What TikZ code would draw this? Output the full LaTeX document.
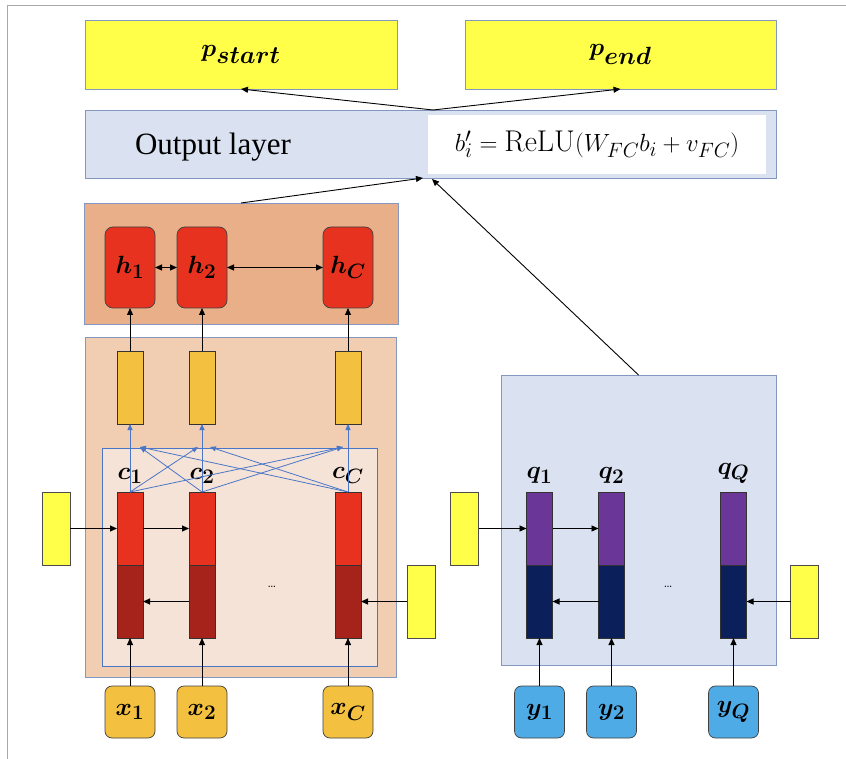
\documentclass[tikz,border=0pt]{standalone}
\usepackage{fontspec}
\usepackage{bm}
\usetikzlibrary{arrows.meta, positioning, calc}
\newfontfamily\timesfont{Liberation Serif}

\definecolor{pyellow}{HTML}{FFFF4A}
\definecolor{zoneedge}{HTML}{8497C0}
\definecolor{outfill}{HTML}{DAE2F2}
\definecolor{hfill}{HTML}{E9AF88}
\definecolor{cfill}{HTML}{F1CDB1}
\definecolor{cinner}{HTML}{F6E3D7}
\definecolor{linkblue}{HTML}{4A76C8}
\definecolor{hred}{HTML}{E6321F}
\definecolor{gold}{HTML}{F3C13F}
\definecolor{cdark}{HTML}{A5231A}
\definecolor{qpurple}{HTML}{6A3698}
\definecolor{qnavy}{HTML}{0B1F5B}
\definecolor{skyblue}{HTML}{4FABE6}
\definecolor{framegray}{HTML}{A8A8A8}

\begin{document}
\begin{tikzpicture}[
    x=1pt, y=1pt,
    zone/.style={rectangle, draw=zoneedge, line width=0.8pt, inner sep=0pt, outer sep=0pt},
    pbox/.style={zone, fill=pyellow, minimum height=69pt,
        font=\fontsize{34}{34}\selectfont},
    cell/.style={rectangle, draw=black!80, line width=0.6pt, inner sep=0pt, outer sep=0pt,
        minimum width=26pt, minimum height=73pt},
    ctop/.style={cell, fill=hred},
    cbot/.style={cell, fill=cdark},
    qtop/.style={cell, fill=qpurple},
    qbot/.style={cell, fill=qnavy},
    gatebox/.style={cell, fill=gold},
    side/.style={cell, draw=black!70, fill=pyellow, minimum width=28pt},
    hbox/.style={rectangle, rounded corners=8pt, draw=black!75, line width=0.7pt,
        fill=hred, minimum width=50pt, minimum height=81pt, inner sep=0pt, outer sep=0pt,
        font=\fontsize{31}{31}\selectfont},
    inbox/.style={rectangle, rounded corners=7pt, draw=black!75, line width=0.7pt,
        minimum width=50pt, minimum height=52pt, inner sep=0pt, outer sep=0pt,
        font=\fontsize{31}{31}\selectfont},
    xin/.style={inbox, fill=gold},
    yin/.style={inbox, fill=skyblue},
    lbl/.style={inner sep=0pt, font=\fontsize{30}{30}\selectfont},
    dots/.style={inner sep=0pt, font=\fontsize{14}{14}\selectfont},
    arr/.style={-{Triangle[length=7pt, width=6pt]}, line width=0.9pt},
    biarr/.style={{Triangle[length=7pt, width=6pt]}-{Triangle[length=7pt, width=6pt]}, line width=0.9pt},
    barr/.style={-{Triangle[length=6pt, width=5pt]}, line width=0.8pt, draw=linkblue},
]
\useasboundingbox (0,0) rectangle (846,-759);

%% ---- FRAME ----
\draw[framegray, line width=0.8pt] (7,-759) -- (7,-5) -- (846,-5);

%% ---- ZONES ----
\node[zone, fill=hfill, minimum width=314pt, minimum height=121pt] (hzone) at (241,-263.5) {};
\node[zone, fill=cfill, minimum width=311pt, minimum height=340pt] (czone) at (240.5,-507) {};
\node[zone, draw=linkblue, fill=cinner, minimum width=275pt, minimum height=218pt] (cbox) at (239.5,-557) {};
\node[zone, fill=outfill, minimum width=275pt, minimum height=290pt] (qzone) at (638.5,-520) {};

%% ---- OUTPUT ----
\node[pbox, minimum width=312pt] (pstart) at (241,-54.5) {$\bm{p_{start}}$};
\node[pbox, minimum width=311pt] (pend) at (620.5,-54.5) {$\bm{p_{end}}$};
\node[zone, fill=outfill, minimum width=691pt, minimum height=68pt] (outlayer) at (430.5,-144) {};
\node[inner sep=0pt, font=\timesfont\fontsize{31}{31}\selectfont] (outtxt) at (213,-147) {Output layer};
\node[fill=white, inner sep=0pt, minimum width=338pt, minimum height=59pt,
      font=\fontsize{30}{30}\selectfont] (formula) at (597,-144.5)
      {$b'_i = \mathrm{ReLU}(W_{FC} b_i + v_{FC})$};
\coordinate (split) at (433,-110);
\coordinate (in1) at (423,-178);
\coordinate (in2) at (432,-179);

%% ---- CONTEXT CELLS ----
\node[ctop] (c1t) at (130,-528.5) {};
\node[cbot, below=0pt of c1t] (c1b) {};
\node[ctop, right=46pt of c1t] (c2t) {};
\node[cbot, below=0pt of c2t] (c2b) {};
\node[ctop, right=120pt of c2t] (cCt) {};
\node[cbot, below=0pt of cCt] (cCb) {};
\node[side, left=47pt of c1t] (cl) {};
\node[side, right=46pt of cCb] (cr) {};
\node[lbl, above=8pt of c1t] (c1lbl) {$\bm{c_1}$};
\node[lbl, above=8pt of c2t] (c2lbl) {$\bm{c_2}$};
\node[lbl, above=8pt of cCt] (cClbl) {$\bm{c_C}$};
\node[dots] (cdots) at (272,-587) {\dots};

%% ---- GATES AND H ----
\node[gatebox, above=68pt of c1t] (g1) {};
\node[gatebox, above=68pt of c2t] (g2) {};
\node[gatebox, above=68pt of cCt] (gC) {};
\node[hbox, above=43pt of g1] (h1) {$\bm{h_1}$};
\node[hbox, above=43pt of g2] (h2) {$\bm{h_2}$};
\node[hbox, above=43pt of gC] (hC) {$\bm{h_C}$};

%% ---- CONTEXT INPUTS ----
\node[xin, below=48pt of c1b] (x1) {$\bm{x_1}$};
\node[xin, below=48pt of c2b] (x2) {$\bm{x_2}$};
\node[xin, below=48pt of cCb] (xC) {$\bm{x_C}$};

%% ---- QUESTION CELLS ----
\node[qtop] (q1t) at (539.5,-528.5) {};
\node[qbot, below=0pt of q1t] (q1b) {};
\node[qtop, right=46pt of q1t] (q2t) {};
\node[qbot, below=0pt of q2t] (q2b) {};
\node[qtop, right=96pt of q2t] (qQt) {};
\node[qbot, below=0pt of qQt] (qQb) {};
\node[side, left=48pt of q1t] (ql) {};
\node[side, right=44pt of qQb] (qr) {};
\node[lbl, above=8pt of q1t] (q1lbl) {$\bm{q_1}$};
\node[lbl, above=8pt of q2t] (q2lbl) {$\bm{q_2}$};
\node[lbl, above=8pt of qQt] (qQlbl) {$\bm{q_Q}$};
\node[dots] (qdots) at (668,-587) {\dots};
\node[yin, below=48pt of q1b] (y1) {$\bm{y_1}$};
\node[yin, below=48pt of q2b] (y2) {$\bm{y_2}$};
\node[yin, below=48pt of qQb] (yQ) {$\bm{y_Q}$};

%% ---- ATTENTION LINKS ----
\coordinate (k1) at (140,-447);
\coordinate (k2l) at (198,-447);
\coordinate (k2r) at (210,-447);
\coordinate (kC) at (343,-447);
\draw[barr] (c1t.north) -- (g1.south);
\draw[barr] (c2t.north) -- (g2.south);
\draw[barr] (cCt.north) -- (gC.south);
\draw[barr] (c1t.north) -- (k2l);
\draw[barr] (c1t.north) -- (kC);
\draw[barr] (c2t.north) -- (k1);
\draw[barr] (c2t.north) -- (kC);
\draw[barr] (cCt.north) -- (k1);
\draw[barr] (cCt.north) -- (k2r);

%% ---- RNN ARROWS ----
\draw[arr] (cl.east) -- (c1t.west);
\draw[arr] (c1t.east) -- (c2t.west);
\draw[arr] (c2b.west) -- (c1b.east);
\draw[arr] (cr.west) -- (cCb.east);
\draw[arr] (ql.east) -- (q1t.west);
\draw[arr] (q1t.east) -- (q2t.west);
\draw[arr] (q2b.west) -- (q1b.east);
\draw[arr] (qr.west) -- (qQb.east);

\draw[arr] (x1.north) -- (c1b.south);
\draw[arr] (x2.north) -- (c2b.south);
\draw[arr] (xC.north) -- (cCb.south);
\draw[arr] (y1.north) -- (q1b.south);
\draw[arr] (y2.north) -- (q2b.south);
\draw[arr] (yQ.north) -- (qQb.south);

\draw[arr] (g1.north) -- (g1.north |- h1.south);
\draw[arr] (g2.north) -- (g2.north |- h2.south);
\draw[arr] (gC.north) -- (gC.north |- hC.south);
\draw[biarr] (h1.east) -- (h2.west);
\draw[biarr] (h2.east) -- (hC.west);

%% ---- TO OUTPUT ----
\draw[arr] (hzone.north) -- (in1);
\draw[arr] (qzone.north) -- (in2);
\draw[arr] (split) -- (pstart.south);
\draw[arr] (split) -- (pend.south);

\end{tikzpicture}
\end{document}
